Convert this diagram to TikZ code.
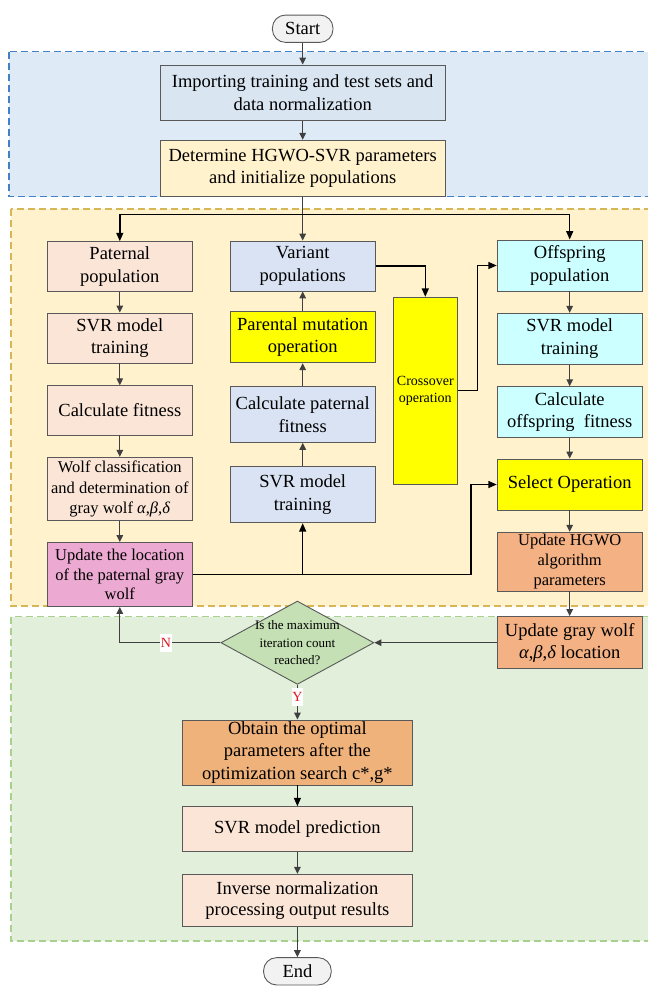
\documentclass[tikz,border=0pt]{standalone}
\usepackage{fontspec}
\setmainfont{Liberation Serif}
\usetikzlibrary{arrows.meta,shapes.geometric}
\newcommand{\fsz}[2]{\fontsize{#1}{#2}\selectfont}
\definecolor{boxline}{HTML}{595959}
\definecolor{arrgray}{HTML}{404040}
\definecolor{bluef}{HTML}{DEEBF7}
\definecolor{blueb}{HTML}{4281C6}
\definecolor{yelf}{HTML}{FFF2CC}
\definecolor{yelb}{HTML}{D6B656}
\definecolor{greenf}{HTML}{E2EFDA}
\definecolor{greenb}{HTML}{A9D18E}
\definecolor{impfill}{HTML}{DAE5F2}
\definecolor{detfill}{HTML}{FFF2CC}
\definecolor{pfill}{HTML}{FBE5D6}
\definecolor{vfill}{HTML}{DAE3F3}
\definecolor{cfill}{HTML}{CCFFFF}
\definecolor{yel}{HTML}{FFFF00}
\definecolor{pinkfill}{HTML}{ECA9D1}
\definecolor{ofill}{HTML}{F4B183}
\definecolor{obfill}{HTML}{EFB27B}
\definecolor{dfill}{HTML}{C5E0B4}
\definecolor{termfill}{HTML}{F2F2F2}
\definecolor{labred}{HTML}{E0161E}
\begin{document}
\begin{tikzpicture}[x=1pt,y=-1pt,
  box/.style={draw=boxline, line width=0.9pt, align=center, inner sep=0pt, minimum width=145pt, font=\fsz{18.5}{22.5}},
  term/.style={draw=boxline, line width=0.9pt, fill=termfill, rounded corners=13pt, minimum width=60.6pt, minimum height=27.3pt, inner sep=0pt, font=\fsz{18.5}{22.5}},
  gr/.style={draw=arrgray, line width=1.3pt, -{Triangle[length=7pt,width=6.5pt]}},
  blk/.style={draw=black, line width=1.5pt, -{Triangle[length=8.5pt,width=7pt]}},
  region/.style={dash pattern=on 7pt off 4pt, line width=1.2pt},
  lab/.style={fill=white, text=labred, font=\fsz{14}{16}, inner xsep=0.5pt, inner ysep=0pt, minimum height=17.7pt}]
\clip (0,0) rectangle (648,986);
% regions
\draw[region, draw=blueb, fill=bluef] (9,51.7) rectangle (660,196.7);
\draw[region, draw=yelb, fill=yelf] (11,209) rectangle (660,606);
\draw[region, draw=greenb, fill=greenf] (11,616.7) rectangle (660,941);
% top
\node[term] (start) at (302.7,28.7) {Start};
\node[box, fill=impfill, minimum width=285pt, minimum height=55.7pt] (imp) at (302.7,92.85) {Importing training and test sets and\\data normalization};
\node[box, fill=detfill, minimum width=285pt, minimum height=56.4pt] (det) at (302.7,168.5) {Determine HGWO-SVR parameters\\and initialize populations};
% left column
\node[box, fill=pfill, minimum height=50pt] (pat) at (119.8,266.7) {Paternal\\population};
\node[box, fill=pfill, minimum height=50pt] (svrl) at (119.8,338) {SVR model\\training};
\node[box, fill=pfill, minimum height=49.3pt] (calcl) at (119.8,410.35) {Calculate fitness};
\node[box, fill=pfill, minimum height=63.4pt, font=\fsz{16.5}{20.3}] (wolf) at (119.8,489) {Wolf classification\\and determination of\\gray wolf \textit{α},\textit{β},\textit{δ}};
\node[box, fill=pinkfill, minimum height=64pt, font=\fsz{16.5}{19.7}] (pink) at (119.8,574.5) {Update the location\\of the paternal gray\\wolf};
% center column
\node[box, fill=vfill, minimum height=50pt] (var) at (302.7,266) {Variant\\populations};
\node[box, fill=yel, minimum height=51.7pt] (mut) at (302.7,336.85) {Parental mutation\\operation};
\node[box, fill=vfill, minimum height=55.6pt] (calcc) at (302.7,414.5) {Calculate paternal\\fitness};
\node[box, fill=vfill, minimum height=56pt] (svrc) at (302.7,494.7) {SVR model\\training};
% crossover
\node[box, fill=yel, minimum width=64pt, minimum height=186.7pt, font=\fsz{14}{17.5}] (cross) at (425.3,390.65) {Crossover\\operation};
% right column
\node[box, fill=cfill, minimum height=51pt] (off) at (569.7,265.5) {Offspring\\population};
\node[box, fill=cfill, minimum height=51pt] (svrr) at (569.7,338.8) {SVR model\\training};
\node[box, fill=cfill, minimum height=51pt] (calcr) at (569.7,412.2) {Calculate\\offspring~ fitness};
\node[box, fill=yel, minimum height=51pt] (sel) at (569.7,484.5) {Select Operation};
\node[box, fill=ofill, minimum height=58.7pt, font=\fsz{16.5}{20}] (uhgwo) at (569.7,561.65) {Update HGWO\\algorithm\\parameters};
\node[box, fill=ofill, minimum height=52.3pt, font=\fsz{18.5}{21.7}] (ugw) at (569.7,642.7) {Update gray wolf\\\textit{α},\textit{β},\textit{δ} location};
% decision
\node[diamond, draw=boxline, fill=dfill, line width=0.9pt, minimum width=153pt, minimum height=83.3pt, inner sep=0pt] (dia) at (297.4,642.7) {};
\node[font=\fsz{13}{17.8}, align=center, inner sep=0pt] (diat) at (297.4,642.7) {Is the maximum\\iteration count\\reached?};
% bottom
\node[box, fill=obfill, minimum width=230pt, minimum height=65pt] (obt) at (297.4,752.5) {Obtain the optimal\\parameters after the\\optimization search c*,g*};
\node[box, fill=pfill, minimum width=230pt, minimum height=45pt] (pred) at (297.4,829.2) {SVR model prediction};
\node[box, fill=pfill, minimum width=230pt, minimum height=52.4pt, font=\fsz{18.5}{21.7}] (inv) at (297.4,900.5) {Inverse normalization\\processing output results};
\node[term, minimum width=67.7pt] (end) at (297.4,971.3) {End};
% connectors
\draw[gr] (start) -- (imp);
\draw[gr] (imp) -- (det);
\draw[gr] (det) -- (var);
\coordinate (bus) at (302.7,214.3);
\draw[blk] (bus) -| (pat.north);
\draw[blk] (bus) -| (off.north);
\draw[gr] (pat) -- (svrl);
\draw[gr] (svrl) -- (calcl);
\draw[gr] (calcl) -- (wolf);
\draw[gr] (wolf) -- (pink);
\draw[gr] (svrc) -- (calcc);
\draw[gr] (calcc) -- (mut);
\draw[gr] (mut) -- (var);
\draw[gr] (off) -- (svrr);
\draw[gr] (svrr) -- (calcr);
\draw[gr] (calcr) -- (sel);
\draw[gr] (sel) -- (uhgwo);
\draw[gr] (uhgwo) -- (ugw);
\coordinate (xs) at (471,0);
\coordinate (xo) at (477.3,0);
\draw[blk] (pink.east) -- (pink.east -| xs) |- (sel.west);
\draw[blk] (pink.east -| svrc.south) -- (svrc.south);
\draw[blk] (var.east) -| (cross.north);
\draw[blk] (cross.east) -- (cross.east -| xo) |- (off.west);
\draw[gr] (ugw) -- (dia);
\draw[gr] (dia.west) -| (pink.south);
\node[lab] (nl) at (166,642.7) {N};
\draw[gr] (dia.south) -- (obt.north);
\node[lab] (yl) at (297.4,696.7) {Y};
\draw[blk] (obt) -- (pred);
\draw[gr] (pred) -- (inv);
\draw[gr] (inv) -- (end);
\end{tikzpicture}
\end{document}
